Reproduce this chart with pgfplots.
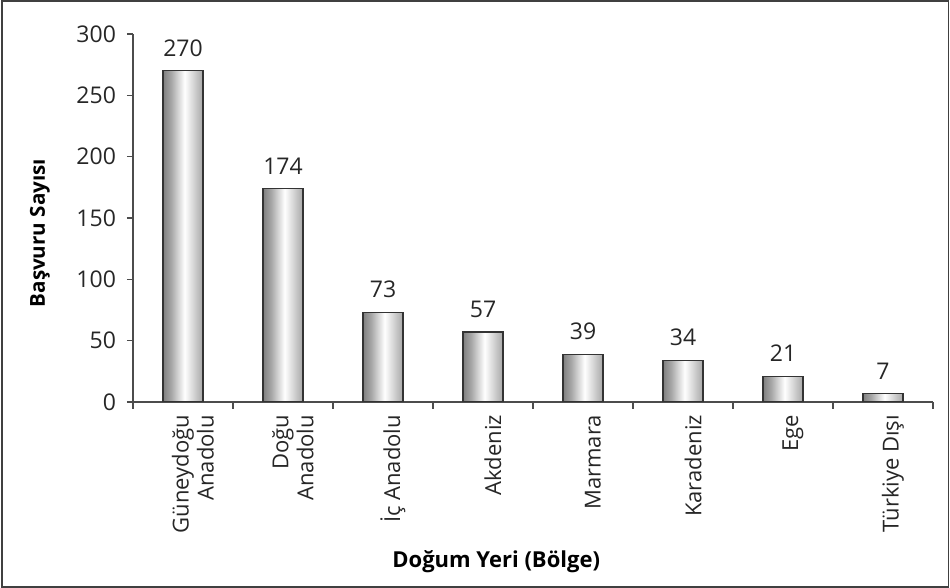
\documentclass[border=0pt]{standalone}
\usepackage{fontspec}
\setmainfont{Open Sans}
\usepackage{pgfplots}
\pgfplotsset{compat=1.18}
\pgfdeclarehorizontalshading{barshade}{100bp}{color(0bp)=(black!80); color(15bp)=(black!65); color(35bp)=(black!35); color(52bp)=(white); color(62bp)=(black!15); color(85bp)=(black!50); color(100bp)=(black!68)}
\begin{document}
\begin{tikzpicture}
\useasboundingbox (0,0) rectangle (475pt,294pt);
\draw[black!75, line width=0.75pt] (1pt,0.6pt) rectangle (474.2pt,293.4pt);
\begin{axis}[
  at={(66.5pt,93pt)}, anchor=south west,
  scale only axis, width=400pt, height=184pt,
  font=\fontsize{11.5pt}{13.5pt}\selectfont,
  ymin=0, ymax=300, ytick={0,50,...,300},
  xmin=-0.5, xmax=7.5,
  xtick={0,...,7},
  xticklabels={{Güneydoğu\\Anadolu},{Doğu\\Anadolu},{İç Anadolu},Akdeniz,Marmara,Karadeniz,Ege,{Türkiye Dışı}},
  minor xtick={-0.5,0.5,...,7.5},
  axis x line*=bottom, axis y line*=left,
  axis line style={black!70, line width=0.6pt, -},
  tick style={black!70, line width=0.6pt},
  tick align=outside,
  major tick length=3pt, minor tick length=3.5pt,
  x tick style={draw=none},
  minor x tick style={draw=black!70, line width=0.6pt},
  yticklabel style={anchor=east, xshift=-2pt, text=black!85},
  xticklabel style={rotate=90, anchor=east, align=right, yshift=-5pt, text=black!85, font=\fontsize{11pt}{12.5pt}\selectfont},
  /pgf/number format/assume math mode=true,
  every axis y label/.style={at={(axis description cs:-0.11625,0.459)}, rotate=90, anchor=center, font=\fontsize{10.3pt}{12pt}\selectfont\bfseries},
  every axis x label/.style={at={(axis description cs:0.454,-0.4348)}, anchor=center, font=\fontsize{11pt}{13pt}\selectfont\bfseries},
  ylabel={Başvuru Sayısı},
  xlabel={Doğum Yeri (Bölge)},
  ybar, bar width=20pt, bar shift=0pt,
  nodes near coords,
  every node near coord/.style={font=\fontsize{11.5pt}{13.5pt}\selectfont, text=black!85, anchor=south, yshift=3.5pt},
  bars/.style={draw=black!80, line width=0.6pt, shading=barshade},
]
\addplot[bars] coordinates {(0,270)};
\addplot[bars] coordinates {(1,174)};
\addplot[bars] coordinates {(2,73)};
\addplot[bars] coordinates {(3,57)};
\addplot[bars] coordinates {(4,39)};
\addplot[bars] coordinates {(5,34)};
\addplot[bars] coordinates {(6,21)};
\addplot[bars] coordinates {(7,7)};
\end{axis}
\end{tikzpicture}
\end{document}
